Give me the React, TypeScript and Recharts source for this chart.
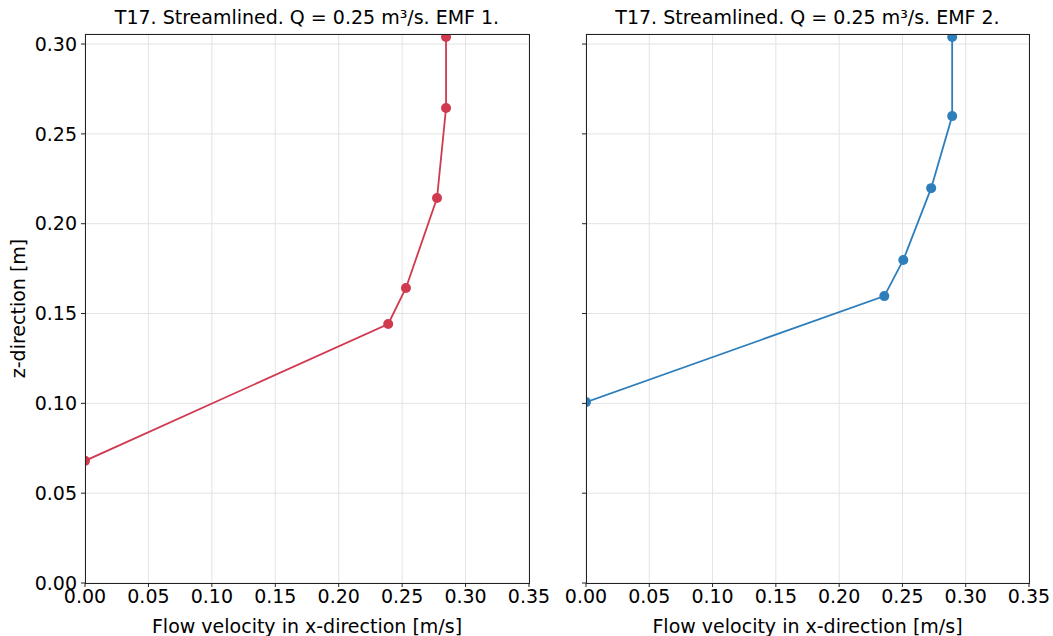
import { LineChart, Line, XAxis, YAxis, CartesianGrid } from 'recharts';

// EMF 1 profile
const emf1Velocity = [0.0, 0.239, 0.253, 0.2775, 0.2846, 0.2846];
const emf1Depth = [0.068, 0.1442, 0.1642, 0.2143, 0.2644, 0.3039];

// EMF 2 profile
const emf2Velocity = [0.0, 0.2357, 0.2507, 0.2727, 0.2893, 0.2893];
const emf2Depth = [0.1007, 0.1597, 0.1798, 0.2198, 0.2599, 0.3039];

const xTicks = [0, 0.05, 0.1, 0.15, 0.2, 0.25, 0.3, 0.35];
const yTicks = [0, 0.05, 0.1, 0.15, 0.2, 0.25, 0.3];

const titles = [
  'T17. Streamlined. Q = 0.25 m³/s. EMF 1.',
  'T17. Streamlined. Q = 0.25 m³/s. EMF 2.',
];
const xLabel = 'Flow velocity in x-direction [m/s]';
const yLabel = 'z-direction [m]';

const toRows = (v: number[], z: number[]) => v.map((x, i) => ({ v: x, z: z[i] }));

const font = 'DejaVu Sans, sans-serif';
const fs = 19;
const tickStyle = { fill: '#000', fontSize: fs, fontFamily: font };

const PLOT_TOP = 34;
const PLOT_H = 549;

function Panel({ rows, color, title, showY, left, width, leftW, rightM }: any) {
  const plotW = width - leftW - rightM;
  return (
    <div style={{ position: 'absolute', left, top: 0, width, height: 636 }}>
      <div
        style={{
          position: 'absolute',
          top: 6,
          left: leftW - 20,
          width: plotW + 40,
          textAlign: 'center',
          fontSize: fs,
          lineHeight: '22px',
          fontFamily: font,
          color: '#000',
          whiteSpace: 'nowrap',
        }}
      >
        {title}
      </div>
      <LineChart
        width={width}
        height={636}
        data={rows}
        margin={{ top: PLOT_TOP, right: rightM, bottom: 0, left: 0 }}
      >
        <CartesianGrid stroke="#e3e3e3" strokeWidth={1} />
        <XAxis
          type="number"
          dataKey="v"
          domain={[0, 0.35]}
          ticks={xTicks}
          tickFormatter={(t: number) => t.toFixed(2)}
          tick={tickStyle}
          tickSize={4}
          tickMargin={3}
          axisLine={false}
          tickLine={{ stroke: '#222' }}
          height={636 - PLOT_TOP - PLOT_H}
          allowDataOverflow
          label={{ value: xLabel, position: 'insideBottom', offset: 3, fill: '#000', fontSize: fs, fontFamily: font }}
        />
        <YAxis
          type="number"
          dataKey="z"
          domain={[0, 0.3056]}
          ticks={yTicks}
          tickFormatter={(t: number) => (showY ? t.toFixed(2) : '')}
          tick={tickStyle}
          tickSize={4}
          tickMargin={4}
          axisLine={false}
          tickLine={{ stroke: '#222' }}
          width={leftW}
          allowDataOverflow
          label={
            showY
              ? { value: yLabel, angle: -90, position: 'insideLeft', offset: 18, fill: '#000', fontSize: fs, fontFamily: font, style: { textAnchor: 'middle' } }
              : undefined
          }
        />
        <Line
          dataKey="z"
          stroke={color}
          strokeWidth={1.8}
          dot={{ r: 5, fill: color, stroke: color, strokeWidth: 0 }}
          isAnimationActive={false}
        />
      </LineChart>
      {/* plot frame */}
      <div
        style={{
          position: 'absolute',
          boxSizing: 'border-box',
          left: leftW - 0.5,
          top: PLOT_TOP - 0.5,
          width: plotW + 1,
          height: PLOT_H + 1,
          border: '1px solid #222',
          pointerEvents: 'none',
        }}
      />
    </div>
  );
}

export default function App() {
  return (
    <div style={{ position: 'absolute', left: 0, top: 0, width: 1053, height: 636, background: '#fff', overflow: 'hidden' }}>
      <Panel rows={toRows(emf1Velocity, emf1Depth)} color="#d1394f" title={titles[0]} showY left={0} width={570} leftW={85} rightM={41} />
      <Panel rows={toRows(emf2Velocity, emf2Depth)} color="#2e7ebc" title={titles[1]} showY={false} left={540} width={513} leftW={46} rightM={24} />
    </div>
  );
}
